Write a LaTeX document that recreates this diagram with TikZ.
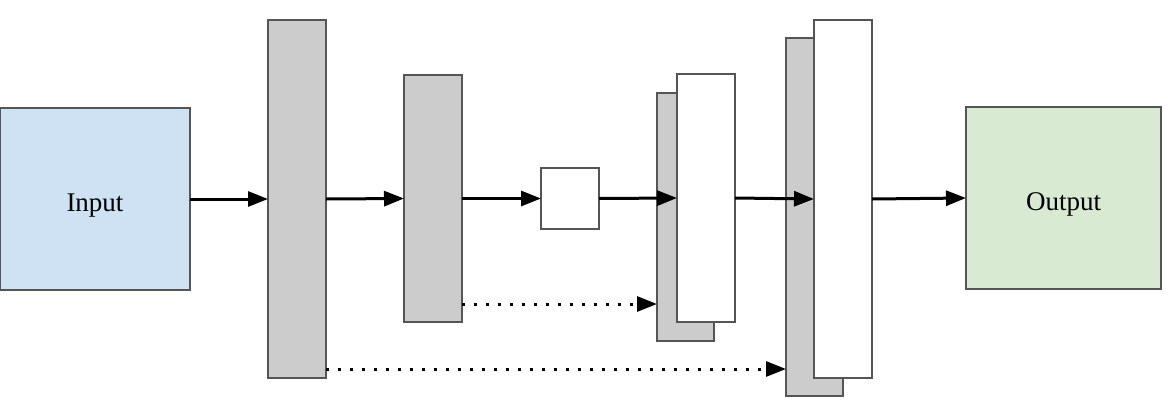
\documentclass[tikz,border=0pt]{standalone}
\usepackage{fontspec}
\setmainfont{Liberation Serif}
\usetikzlibrary{arrows.meta}
\definecolor{inblue}{HTML}{CFE2F3}
\definecolor{outgreen}{HTML}{D9EAD3}
\definecolor{blk}{HTML}{CCCCCC}
\definecolor{edge}{HTML}{555555}
\begin{document}
\begin{tikzpicture}[x=1pt,y=-1pt,
  box/.style={draw=edge, line width=1.5pt, anchor=north west, inner sep=0pt, outer sep=0pt},
  graybox/.style={box, fill=blk},
  whitebox/.style={box, fill=white},
  arr/.style={line width=3pt, -{Triangle[length=20pt,width=15pt]}},
  dotarr/.style={line width=3pt, dash pattern=on 3pt off 9pt, -{Triangle[length=20pt,width=15pt]}},
  lbl/.style={font=\fontsize{27}{30}\selectfont, text height=30pt, text depth=6pt}]
\useasboundingbox (0,0) rectangle (1171,408);
\node[box, fill=inblue, minimum width=190pt, minimum height=182pt, lbl] (in) at (0,108) {Input};
\node[graybox, minimum width=58pt, minimum height=358pt] (g1) at (268,20) {};
\node[graybox, minimum width=58pt, minimum height=247pt] (g2) at (404,75) {};
\node[whitebox, minimum width=58pt, minimum height=61pt] (sq) at (541,168) {};
\node[graybox, minimum width=57pt, minimum height=248pt] (g3) at (657,93) {};
\node[whitebox, minimum width=58pt, minimum height=248pt] (w3) at (677,74) {};
\node[graybox, minimum width=57pt, minimum height=358pt] (g4) at (786,38) {};
\node[whitebox, minimum width=58pt, minimum height=358pt] (w4) at (814,20) {};
\node[box, fill=outgreen, minimum width=195pt, minimum height=182pt, lbl] (out) at (966,107) {Output};
\draw[arr] (in.east) -- (g1.west);
\draw[arr] (g1.east) -- (g2.west);
\draw[arr] (g2.east) -- (sq.west);
\draw[arr] (sq.east) -- (w3.west);
\draw[arr] (w3.east) -- (w4.west);
\draw[arr] (w4.east) -- (out.west);
\coordinate (d1) at ([yshift=18pt]g2.south east);
\coordinate (d2) at ([yshift=9pt]g1.south east);
\draw[dotarr] (d1) -- (d1 -| g3.west);
\draw[dotarr] (d2) -- (d2 -| g4.west);
\end{tikzpicture}
\end{document}
